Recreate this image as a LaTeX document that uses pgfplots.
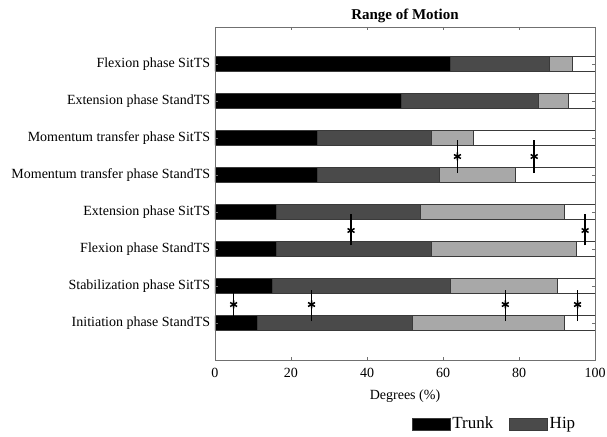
\documentclass[border=0pt]{standalone}
\usepackage{fontspec}
\setmainfont{Liberation Serif}
\usepackage{pgfplots}
\pgfplotsset{compat=1.18}
\definecolor{hipc}{HTML}{4A4A4A}
\definecolor{kneec}{HTML}{A8A8A8}
\definecolor{edgec}{HTML}{3A3A3A}
\definecolor{axc}{HTML}{707070}
\newcommand{\fs}{\fontsize{14}{16}\selectfont}
\newcommand{\fl}{\fontsize{17}{19}\selectfont}
\begin{document}
\fs
\begin{tikzpicture}
\begin{axis}[
  scale only axis, width=380pt, height=333pt,
  axis on top,
  xbar stacked, bar width=15pt,
  xmin=0, xmax=100, ymin=0, ymax=9,
  xtick={0,20,...,100},
  ytick={1,...,8},
  yticklabels={Initiation phase StandTS, Stabilization phase SitTS, Flexion phase StandTS, Extension phase SitTS, Momentum transfer phase StandTS, Momentum transfer phase SitTS, Extension phase StandTS, Flexion phase SitTS},
  tick align=inside, major tick length=3pt,
  tick style={axc, line width=0.6pt},
  axis line style={axc, line width=0.8pt},
  /pgf/number format/assume math mode=true,
  ticklabel style={font=\fs},
  xticklabel style={yshift=-3pt},
  title={\textbf{Range of Motion}},
  title style={font=\fontsize{15}{17}\selectfont, yshift=-7pt},
  xlabel={Degrees (\%)},
  xlabel style={font=\fontsize{14}{16}\selectfont, yshift=-3pt},
  legend entries={Trunk,Hip},
  legend columns=2,
  legend style={draw=none, fill=none, at={(axis description cs:0.51,-0.192)}, anchor=west, font=\fl, /tikz/every even column/.append style={column sep=14pt}},
  legend image code/.code={\draw[#1, draw=edgec] (0pt,-6pt) rectangle (38pt,6pt);},
]
\coordinate (bbsw) at (rel axis cs:0,0);
\coordinate (bbne) at (rel axis cs:1,1);
\addplot[fill=black, draw=edgec] coordinates {(62,8) (49,7) (27,6) (27,5) (16,4) (16,3) (15,2) (11,1)};
\addplot[fill=hipc, draw=edgec] coordinates {(26,8) (36,7) (30,6) (32,5) (38,4) (41,3) (47,2) (41,1)};
\addplot[fill=kneec, draw=edgec] coordinates {(6,8) (8,7) (11,6) (20,5) (38,4) (38,3) (28,2) (40,1)};
\addplot[fill=white, draw=edgec] coordinates {(6,8) (7,7) (32,6) (21,5) (8,4) (5,3) (10,2) (8,1)};
\end{axis}
\begin{axis}[
  scale only axis, width=380pt, height=333pt,
  xmin=0, xmax=100, ymin=0, ymax=9,
  hide axis, clip=false,
]
\addplot[black, line width=1.6pt] coordinates {(63.8,5.05) (63.8,5.95)};
\addplot[black, line width=1.6pt] coordinates {(84.0,5.05) (84.0,5.95)};
\addplot[black, line width=1.6pt] coordinates {(35.8,3.1) (35.8,3.95)};
\addplot[black, line width=1.6pt] coordinates {(97.4,3.1) (97.4,3.95)};
\addplot[black, line width=1.6pt] coordinates {(4.9,1.05) (4.9,1.9)};
\addplot[black, line width=1.6pt] coordinates {(25.4,1.05) (25.4,1.9)};
\addplot[black, line width=1.6pt] coordinates {(76.4,1.05) (76.4,1.9)};
\addplot[black, line width=1.6pt] coordinates {(95.4,1.05) (95.4,1.9)};
\addplot[only marks, mark=asterisk, mark size=4pt, black, line width=1.5pt] coordinates {(63.8,5.5) (84.0,5.5) (35.8,3.5) (97.4,3.5) (4.9,1.5) (25.4,1.5) (76.4,1.5) (95.4,1.5)};
\end{axis}
\pgfresetboundingbox
\path ([xshift=-215pt,yshift=-76pt]bbsw) rectangle ([xshift=12pt,yshift=27pt]bbne);
\end{tikzpicture}
\end{document}
